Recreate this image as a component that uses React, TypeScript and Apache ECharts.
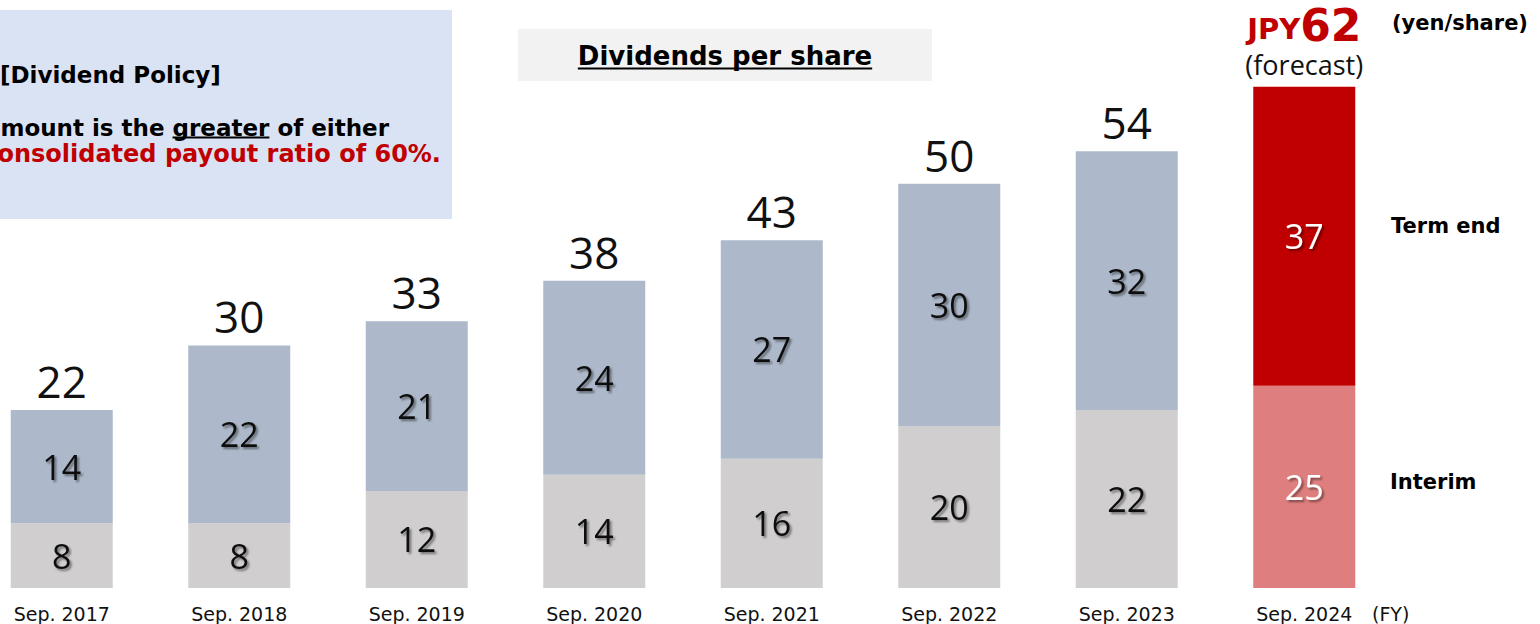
import React, { useEffect, useRef } from "react";
import * as echarts from "echarts";

const categories = ["Sep. 2017", "Sep. 2018", "Sep. 2019", "Sep. 2020", "Sep. 2021", "Sep. 2022", "Sep. 2023", "Sep. 2024"];
const interim = [8, 8, 12, 14, 16, 20, 22, 25];
const termEnd = [14, 22, 21, 24, 27, 30, 32, 37];
const forecastIndex = 7;

const VERDANA = '"DejaVu Sans", Verdana, sans-serif';
const SEGOE = '"Open Sans", "Noto Sans", sans-serif';
const OX = 27; // chart container is shifted left by this amount

function measure(text: string, font: string): number {
  const c = document.createElement("canvas").getContext("2d");
  if (!c) return text.length * 12;
  c.font = font;
  return c.measureText(text).width;
}

export default function App() {
  const ref = useRef<HTMLDivElement>(null);
  useEffect(() => {
    if (!ref.current) return;
    const chart = echarts.init(ref.current, undefined, { renderer: "svg" });
    const totals = interim.map((v, i) => v + termEnd[i]);

    const innerLabel = (white: boolean) => ({
      show: true,
      position: "inside",
      fontFamily: SEGOE,
      fontSize: 34,
      color: white ? "#ffffff" : "#111111",
      textShadowColor: "rgba(0,0,0,0.45)",
      textShadowOffsetX: 2,
      textShadowOffsetY: 2,
      textShadowBlur: 2,
    });

    const policyFont = `bold 23px ${VERDANA}`;
    const wEither = measure(" of either", policyFont);
    const wGreater = measure("greater", policyFont);
    const line2Right = 389;
    const titleFont = `bold 26px ${VERDANA}`;
    const wTitle = measure("Dividends per share", titleFont);
    const sideFont = `bold 21px ${VERDANA}`;

    chart.setOption({
      animation: false,
      grid: { left: 0, right: 147, top: 22, bottom: 36, containLabel: false },
      xAxis: {
        type: "category",
        data: categories,
        axisLine: { show: false },
        axisTick: { show: false },
        axisLabel: { fontFamily: VERDANA, fontSize: 19, color: "#111", margin: 16 },
      },
      yAxis: { type: "value", min: 0, max: 70, show: false, splitLine: { show: false } },
      series: [
        {
          type: "bar",
          name: "Interim",
          stack: "dps",
          barWidth: 102,
          data: interim.map((v, i) => ({
            value: v,
            itemStyle: { color: i === forecastIndex ? "#df7e7e" : "#d0cece" },
            label: innerLabel(i === forecastIndex),
          })),
        },
        {
          type: "bar",
          name: "Term end",
          stack: "dps",
          barWidth: 102,
          data: termEnd.map((v, i) => ({
            value: v,
            itemStyle: { color: i === forecastIndex ? "#c00000" : "#adb9ca" },
            label: innerLabel(i === forecastIndex),
          })),
        },
        {
          type: "scatter",
          name: "Total",
          symbolSize: 0,
          itemStyle: { color: "rgba(0,0,0,0)", opacity: 1 },
          silent: true,
          data: totals.map((v, i) =>
            i === forecastIndex
              ? {
                  value: v,
                  label: {
                    show: true,
                    position: "top",
                    distance: 6,
                    formatter: (p: any) => `{a|JPY}{b|${p.value}}\n{c|(forecast)}`,
                    rich: {
                      a: { fontFamily: VERDANA, fontWeight: "bold", fontSize: 29, color: "#c00000", verticalAlign: "bottom", lineHeight: 30, padding: [0, 0, 7, 0] },
                      b: { fontFamily: VERDANA, fontWeight: "bold", fontSize: 44, color: "#c00000", verticalAlign: "bottom", lineHeight: 42, padding: [3, 0, 3, 0] },
                      c: { fontFamily: SEGOE, fontSize: 27, color: "#111", lineHeight: 30, padding: [0, 0, 3, 0] },
                    },
                  },
                }
              : v
          ),
          label: {
            show: true,
            position: "top",
            distance: 7,
            fontFamily: SEGOE,
            fontSize: 44,
            lineHeight: 44,
            color: "#111",
            opacity: 1,
          },
        },
      ],
      graphic: [
        { type: "rect", z: -10, shape: { x: OX, y: 10, width: 452, height: 209 }, style: { fill: "#dae3f3" } },
        { type: "text", x: OX, y: 75, style: { text: "[Dividend Policy]", font: policyFont, fill: "#000", verticalAlign: "middle", align: "left" } },
        { type: "text", x: OX + line2Right, y: 128, style: { text: "mount is the greater of either", font: policyFont, fill: "#000", verticalAlign: "middle", align: "right" } },
        { type: "line", shape: { x1: OX + line2Right - wEither - wGreater, y1: 137.5, x2: OX + line2Right - wEither, y2: 137.5 }, style: { stroke: "#000", lineWidth: 2 } },
        { type: "text", x: OX + 441, y: 154, style: { text: "onsolidated payout ratio of 60%.", font: `bold 24px ${VERDANA}`, fill: "#c00000", verticalAlign: "middle", align: "right" } },
        { type: "rect", z: -10, shape: { x: OX + 518, y: 29, width: 414, height: 52 }, style: { fill: "#f2f2f2" } },
        { type: "text", x: OX + 725, y: 56, style: { text: "Dividends per share", font: titleFont, fill: "#000", verticalAlign: "middle", align: "center" } },
        { type: "line", shape: { x1: OX + 725 - wTitle / 2, y1: 68.5, x2: OX + 725 + wTitle / 2, y2: 68.5 }, style: { stroke: "#000", lineWidth: 2 } },
        { type: "text", x: OX + 1392, y: 23, style: { text: "(yen/share)", font: sideFont, fill: "#000", verticalAlign: "middle", align: "left" } },
        { type: "text", x: OX + 1391, y: 226, style: { text: "Term end", font: sideFont, fill: "#000", verticalAlign: "middle", align: "left" } },
        { type: "text", x: OX + 1390, y: 482, style: { text: "Interim", font: sideFont, fill: "#000", verticalAlign: "middle", align: "left" } },
        { type: "text", x: OX + 1372, y: 614, style: { text: "(FY)", font: `19px ${VERDANA}`, fill: "#111", verticalAlign: "middle", align: "left" } },
      ],
    });
    return () => chart.dispose();
  }, []);
  return <div ref={ref} style={{ position: "absolute", left: -OX, top: 0, width: 1540 + OX, height: 624 }} />;
}
